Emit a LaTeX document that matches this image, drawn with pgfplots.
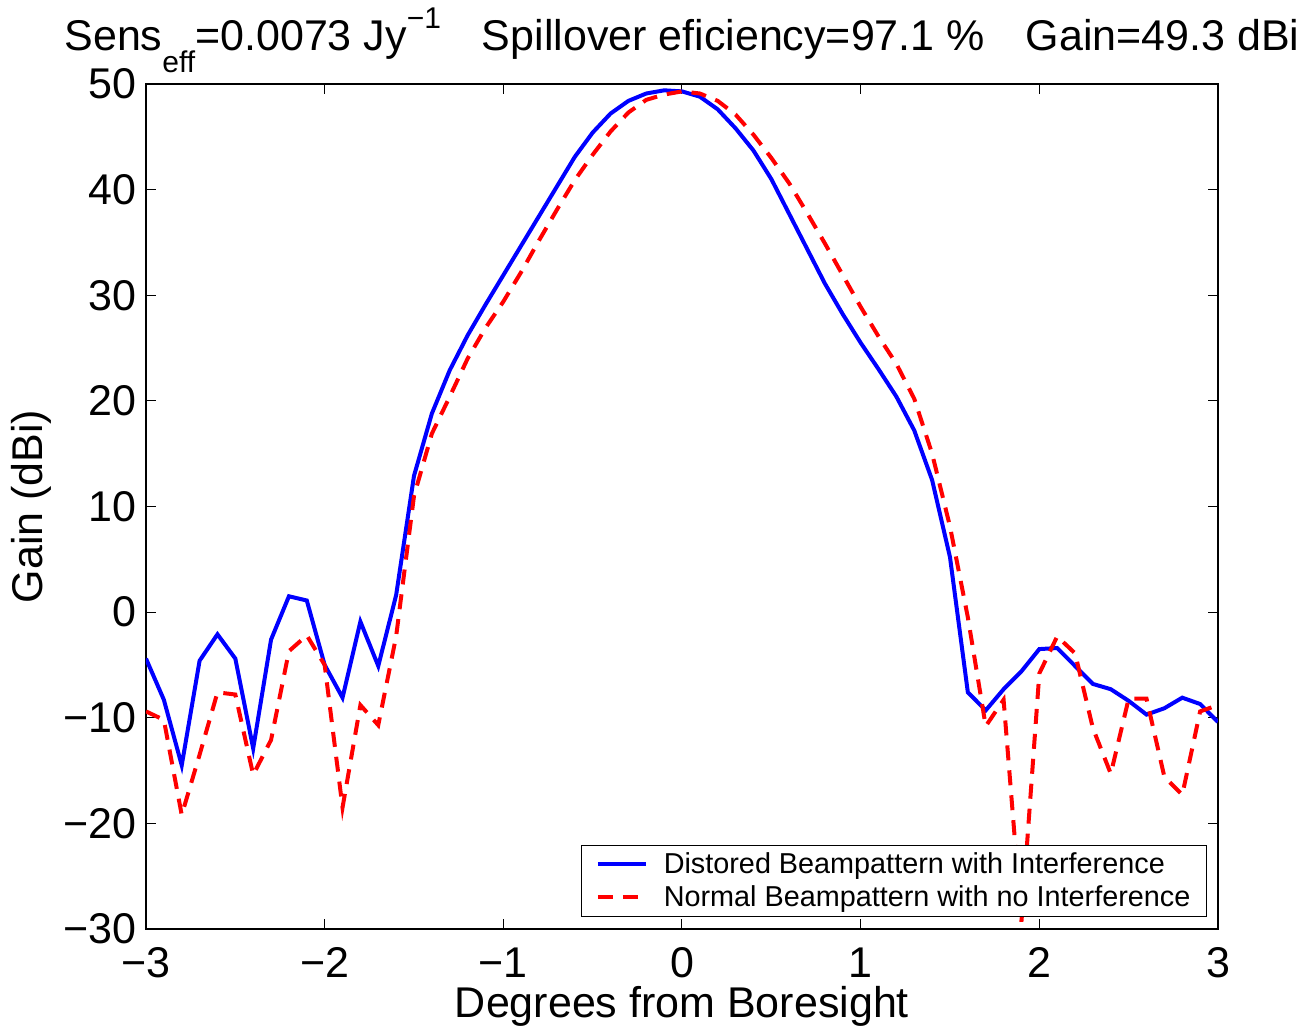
\documentclass[border=0pt]{standalone}
\usepackage{fontspec}
\setmainfont{Liberation Sans}
\usepackage{pgfplots}
\pgfplotsset{compat=1.18}
\begin{document}
\begin{tikzpicture}
\useasboundingbox (-73pt,-49.5pt) rectangle (583.5pt,464.5pt);
\begin{axis}[
  at={(0,0)}, anchor=south west,
  scale only axis, width=536pt, height=422.5pt,
  xmin=-3, xmax=3, ymin=-30, ymax=50,
  xtick={-3,-2,-1,0,1,2,3}, xticklabels={−3,−2,−1,0,1,2,3},
  ytick={-30,-20,-10,0,10,20,30,40,50}, yticklabels={−30,−20,−10,0,10,20,30,40,50},
  tick align=inside, major tick length=5pt,
  tick style={line width=0.5pt, black},
  axis line style={line width=0.8pt},
  ticklabel style={font=\fontsize{21.5}{25}\selectfont},
  xticklabel style={anchor=base, yshift=-24pt, inner sep=0pt},
  yticklabel style={anchor=east, inner sep=0pt, xshift=-4.5pt},
  title={Sens\raisebox{-11pt}{\fontsize{15}{16}\selectfont eff}=0.0073 Jy\raisebox{11pt}{\fontsize{15}{16}\selectfont −1}\hspace*{0.95em}Spillover eficiency=97.1 \%\hspace*{0.95em}Gain=49.3 dBi},
  title style={at={(axis description cs:0.5,1.0402)}, anchor=base, yshift=-6pt, inner sep=0pt, font=\fontsize{21.5}{25}\selectfont},
  xlabel={Degrees from Boresight},
  xlabel style={at={(axis description cs:0.5,-0.1053)}, anchor=base, inner sep=0pt, font=\fontsize{21.5}{25}\selectfont},
  ylabel={Gain (dBi)},
  ylabel style={at={(axis description cs:-0.097,0.5)}, anchor=base, inner sep=0pt, font=\fontsize{21.5}{25}\selectfont},
  legend style={at={(axis description cs:0.9897,0.0142)}, anchor=south east,
    font=\fontsize{14.4}{16}\selectfont, draw=black, line width=0.5pt, fill=white,
    inner xsep=7pt, inner ysep=1.25pt, row sep=0pt,
    nodes={inner sep=1pt, text height=12pt, text depth=2.5pt},
    /tikz/every odd column/.append style={column sep=7pt}},
  legend cell align=left,
  legend image code/.code={\draw[#1] (0pt,0pt) -- (24pt,0pt);},
]
\addplot[blue, line width=2pt, no markers] table {
x y
-3.0 -4.4
-2.9 -8.3
-2.8 -14.5
-2.7 -4.6
-2.6 -2.1
-2.5 -4.4
-2.4 -12.9
-2.3 -2.6
-2.2 1.5
-2.1 1.1
-2.0 -5.0
-1.9 -8.1
-1.8 -0.9
-1.7 -5.1
-1.6 1.6
-1.5 12.9
-1.4 18.8
-1.3 22.9
-1.2 26.2
-1.1 29.1
-1.0 31.9
-0.9 34.7
-0.8 37.5
-0.7 40.3
-0.6 43.1
-0.5 45.4
-0.4 47.2
-0.3 48.4
-0.2 49.1
-0.1 49.4
0.0 49.3
0.1 48.8
0.2 47.6
0.3 45.8
0.4 43.7
0.5 41.0
0.6 37.7
0.7 34.4
0.8 31.1
0.9 28.2
1.0 25.5
1.1 23.0
1.2 20.4
1.3 17.2
1.4 12.5
1.5 5.2
1.6 -7.6
1.7 -9.3
1.8 -7.3
1.9 -5.6
2.0 -3.5
2.1 -3.4
2.2 -5.1
2.3 -6.8
2.4 -7.3
2.5 -8.4
2.6 -9.7
2.7 -9.1
2.8 -8.1
2.9 -8.7
3.0 -10.4
};
\addlegendentry{Distored Beampattern with Interference}
\addplot[red, line width=2pt, dash pattern=on 7.5pt off 5pt, no markers] table {
x y
-3.0 -9.4
-2.9 -10.2
-2.8 -19.2
-2.7 -13.5
-2.6 -7.6
-2.5 -7.8
-2.4 -15.4
-2.3 -12.1
-2.2 -3.7
-2.1 -2.2
-2.0 -5.0
-1.9 -18.5
-1.8 -8.8
-1.7 -10.7
-1.6 -2.3
-1.5 11.0
-1.4 16.9
-1.3 20.4
-1.2 24.0
-1.1 26.9
-1.0 29.4
-0.9 32.2
-0.8 35.2
-0.7 38.1
-0.6 40.9
-0.5 43.3
-0.4 45.5
-0.3 47.3
-0.2 48.5
-0.1 49.0
0.0 49.3
0.1 49.1
0.2 48.4
0.3 47.1
0.4 45.2
0.5 43.0
0.6 40.6
0.7 37.8
0.8 34.9
0.9 31.9
1.0 28.9
1.1 26.1
1.2 23.5
1.3 20.2
1.4 15.0
1.5 8.1
1.6 -0.5
1.7 -10.8
1.8 -8.3
1.9 -29.3
2.0 -5.8
2.1 -2.3
2.2 -3.9
2.3 -11.0
2.4 -15.3
2.5 -8.2
2.6 -8.2
2.7 -15.6
2.8 -17.3
2.9 -9.4
3.0 -8.8
};
\addlegendentry{Normal Beampattern with no Interference}
\end{axis}
\end{tikzpicture}
\end{document}
